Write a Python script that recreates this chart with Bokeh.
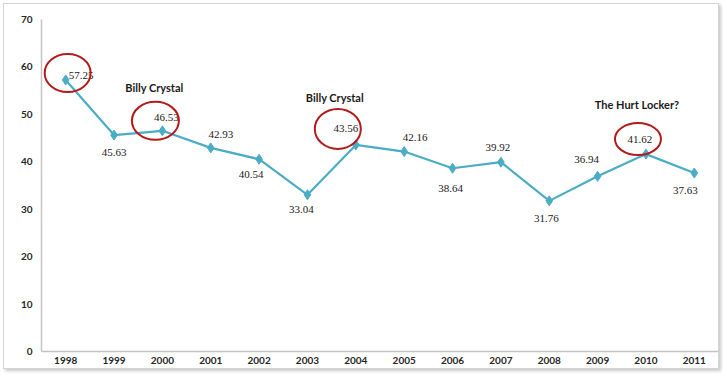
from bokeh.plotting import figure
from bokeh.models import Range1d, FixedTicker, ColumnDataSource
from bokeh.core.properties import value
from bokeh.embed import file_html
from bokeh.resources import INLINE

# ---- data ----
years = ["1998", "1999", "2000", "2001", "2002", "2003", "2004",
         "2005", "2006", "2007", "2008", "2009", "2010", "2011"]
ratings = [57.25, 45.63, 46.53, 42.93, 40.54, 33.04, 43.56,
           42.16, 38.64, 39.92, 31.76, 36.94, 41.62, 37.63]
y_ticks = [0, 10, 20, 30, 40, 50, 60, 70]
highlight_years = ["1998", "2000", "2004", "2010"]
note_years = ["2000", "2004", "2010"]
note_texts = ["Billy Crystal", "Billy Crystal", "The Hurt Locker?"]

# ---- layout / style helpers (screen pixels) ----
label_nudge = [(3, -4), (0, 17), (4, -13), (10, -13), (-8, 15), (-6, 15), (-10, -16),
               (11, -14), (-2, 20), (-3, -15), (-3, 18), (-11, -17), (-6, -15), (-9, 17)]
label_align = ["left"] + ["center"] * 13
ellipse_geom = [(2, -7, 46, 38), (-7, -10, 47, 38), (-18, -16, 46, 40), (-8, -15, 46, 32)]
note_nudge = [(-8, -43), (-21, -47), (-9, -50)]

W, H = 716, 366
ML, MR, MT, MB = 37, 2, 15, 19
frame_w = W - ML - MR
frame_h = H - MT - MB
x_lo, x_hi = -0.5, len(years) - 0.5
y_lo, y_hi = 0, 70
px_x = (x_hi - x_lo) / frame_w
px_y = (y_hi - y_lo) / frame_h

xs = list(range(len(years)))

p = figure(width=W, height=H, output_backend="svg", toolbar_location=None,
           x_range=Range1d(x_lo, x_hi), y_range=Range1d(y_lo, y_hi),
           min_border_left=ML, min_border_right=MR, min_border_top=MT, min_border_bottom=MB)
p.styles = {"margin-left": "3px", "margin-top": "3px",
            "border": "1px solid #D4D4D4",
            "box-shadow": "2px 2px 3px rgba(0,0,0,0.22)"}
p.outline_line_color = None
p.xgrid.visible = False
p.ygrid.visible = False
p.background_fill_color = "white"
p.border_fill_color = "white"

for ax in (p.xaxis[0], p.yaxis[0]):
    ax.axis_line_color = "#C4C4C4"
    ax.axis_line_width = 1.5
    ax.major_tick_out = 0
    ax.major_tick_in = 0
    ax.minor_tick_out = 0
    ax.minor_tick_in = 0
    ax.major_label_text_font = "Lato"
    ax.major_label_text_font_style = "bold"
    ax.major_label_text_font_size = "10px"
    ax.major_label_text_color = "#262626"

p.xaxis.ticker = FixedTicker(ticks=xs)
p.xaxis.major_label_overrides = {i: y for i, y in enumerate(years)}
p.xaxis.major_label_standoff = 5
p.yaxis.ticker = FixedTicker(ticks=y_ticks)
p.yaxis.major_label_standoff = 9

color = "#4BACC6"
p.line(xs, ratings, line_color=color, line_width=2.2)
p.scatter(xs, ratings, marker="diamond", size=10, fill_color=color, line_color=color)

# data labels
src = ColumnDataSource(dict(
    x=xs, y=ratings, t=[f"{v:.2f}" for v in ratings],
    dx=[n[0] for n in label_nudge], dy=[n[1] for n in label_nudge], al=label_align))
p.text(x="x", y="y", text="t", x_offset="dx", y_offset="dy", text_align="al",
       text_baseline="middle", source=src, text_font=value("Liberation Serif"),
       text_font_size="11px", text_color="#1a1a1a")

# red ellipses
ex, ey, ew, eh = [], [], [], []
for yr, (dx, dy, w, h) in zip(highlight_years, ellipse_geom):
    i = years.index(yr)
    ex.append(i + dx * px_x)
    ey.append(ratings[i] - dy * px_y)
    ew.append(w)
    eh.append(h)
p.ellipse(x=ex, y=ey, width=ew, height=eh, width_units="screen", height_units="screen",
          fill_color=None, line_color="#B31B1B", line_width=2)

# annotations
nx = [years.index(y) for y in note_years]
ny = [ratings[i] for i in nx]
p.text(x=nx, y=ny, text=note_texts,
       x_offset=[n[0] for n in note_nudge], y_offset=[n[1] for n in note_nudge],
       text_align="center", text_baseline="middle",
       text_font=value("Lato"), text_font_style="bold", text_font_size="11px",
       text_color="#1a1a1a")

open("out.html", "w").write(file_html(p, INLINE))
